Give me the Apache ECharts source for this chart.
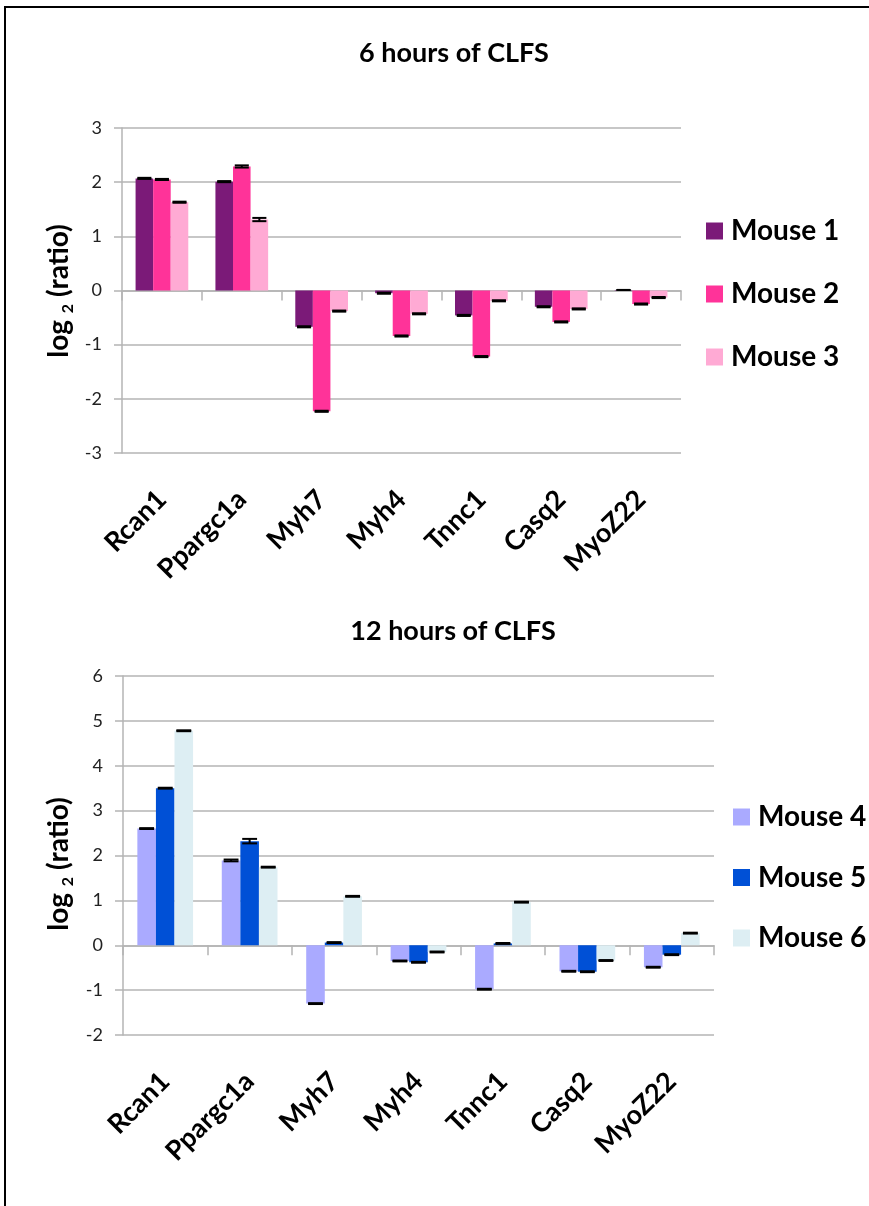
<!DOCTYPE html>
<html>
<head>
<meta charset="utf-8">
<script src="https://cdn.jsdelivr.net/npm/echarts@6/dist/echarts.min.js"></script>
<style>
  html, body { margin: 0; padding: 0; background: #fff; }
  #chart { width: 869px; height: 1206px; }
</style>
</head>
<body>
<div id="chart"></div>
<script>
// Gene targets measured after chronic low-frequency stimulation (CLFS)
const genes = ['Rcan1', 'Ppargc1a', 'Myh7', 'Myh4', 'Tnnc1', 'Casq2', 'MyoZ22'];

// 6 hours of CLFS: log2 expression ratios
const mouse1 = [2.07, 2.01, -0.67, -0.05, -0.46, -0.30, 0.01];
const mouse2 = [2.05, 2.29, -2.23, -0.84, -1.22, -0.58, -0.25];
const mouse3 = [1.63, 1.31, -0.38, -0.43, -0.19, -0.34, -0.13];
const err1 = [0.01, 0.01, 0.01, 0.01, 0.01, 0.01, 0.00];
const err2 = [0.01, 0.02, 0.01, 0.01, 0.01, 0.01, 0.01];
const err3 = [0.01, 0.03, 0.01, 0.01, 0.01, 0.01, 0.01];

// 12 hours of CLFS: log2 expression ratios
const mouse4 = [2.60, 1.89, -1.30, -0.35, -0.98, -0.58, -0.49];
const mouse5 = [3.50, 2.32, 0.06, -0.38, 0.04, -0.59, -0.21];
const mouse6 = [4.78, 1.74, 1.09, -0.15, 0.96, -0.34, 0.27];
const err4 = [0.01, 0.02, 0.01, 0.01, 0.01, 0.01, 0.01];
const err5 = [0.01, 0.05, 0.01, 0.01, 0.01, 0.01, 0.01];
const err6 = [0.01, 0.01, 0.01, 0.01, 0.01, 0.01, 0.01];

const yTicksTop = [-3, -2, -1, 0, 1, 2, 3];
const yTicksBottom = [-2, -1, 0, 1, 2, 3, 4, 5, 6];

const FONT = 'Lato, "Open Sans", sans-serif';
const GRID_COLOR = '#b4b4b4';
const CAT_GAP = 0.34;

const chart = echarts.init(document.getElementById('chart'));

function zeroAxis(gridIndex) {
  return {
    type: 'category', gridIndex, data: genes,
    axisLine: { onZero: true, lineStyle: { color: GRID_COLOR, width: 1.5 } },
    axisTick: { show: true, length: 10, lineStyle: { color: GRID_COLOR, width: 1.5 } },
    axisLabel: { show: false },
    splitLine: { show: false }
  };
}
function labelAxis(gridIndex) {
  return {
    type: 'category', gridIndex, data: genes, position: 'bottom',
    axisLine: { show: false, onZero: false },
    axisTick: { show: false },
    axisLabel: {
      rotate: 45, margin: 42, interval: 0,
      fontFamily: FONT, fontSize: 27, fontWeight: 'bold', color: '#000'
    }
  };
}
function valueAxis(gridIndex, ticks) {
  return {
    type: 'value', gridIndex,
    min: ticks[0], max: ticks[ticks.length - 1], interval: 1,
    axisLine: { show: true, lineStyle: { color: GRID_COLOR, width: 1.5 } },
    axisTick: { show: true, length: 8, lineStyle: { color: GRID_COLOR, width: 1.5 } },
    axisLabel: { fontFamily: FONT, fontSize: 18, color: '#222', margin: 20 },
    splitLine: { show: true, lineStyle: { color: GRID_COLOR, width: 1.5 } }
  };
}

// Rotated y-axis title "log2 (ratio)" with a subscript 2
function yTitle(x, y) {
  return {
    type: 'text', x, y, rotation: Math.PI / 2, silent: true,
    style: {
      text: '{a|log }{s|2}{a| (ratio)}',
      align: 'center', verticalAlign: 'middle',
      rich: {
        a: { fontFamily: FONT, fontSize: 28, fontWeight: 'bold', fill: '#000', lineHeight: 34, verticalAlign: 'middle' },
        s: { fontFamily: FONT, fontSize: 16, fontWeight: 'bold', fill: '#000', lineHeight: 34, verticalAlign: 'bottom' }
      }
    }
  };
}

function barSeries(name, data, color, xAxisIndex, yAxisIndex) {
  return {
    name, type: 'bar', data, xAxisIndex, yAxisIndex,
    barGap: '0%', barCategoryGap: (CAT_GAP * 100) + '%',
    itemStyle: { color },
    emphasis: { disabled: true }
  };
}

// Error caps drawn on top of the grouped bars (slot = -1, 0, 1 within a group)
function errSeries(name, values, errs, slot, xAxisIndex, yAxisIndex) {
  return {
    name, type: 'custom', xAxisIndex, yAxisIndex, z: 5, silent: true,
    data: values.map((v, i) => [i, v, errs[i]]),
    renderItem(params, api) {
      const cat = api.value(0), v = api.value(1), e = api.value(2);
      const band = api.size([1, 0])[0];
      const barW = band * (1 - CAT_GAP) / 3;
      const cx = api.coord([cat, 0])[0] + slot * barW;
      const half = barW * 0.4;
      const yHi = api.coord([cat, v + e])[1];
      const yLo = api.coord([cat, v - e])[1];
      const style = { stroke: '#000', lineWidth: 2 };
      return {
        type: 'group',
        children: [
          { type: 'line', shape: { x1: cx - half, y1: yHi, x2: cx + half, y2: yHi }, style },
          { type: 'line', shape: { x1: cx - half, y1: yLo, x2: cx + half, y2: yLo }, style },
          { type: 'line', shape: { x1: cx, y1: yHi, x2: cx, y2: yLo }, style }
        ]
      };
    }
  };
}

const legendText = { fontFamily: FONT, fontSize: 28, fontWeight: 'bold', color: '#000', lineHeight: 30, padding: [0, 0, 0, 3] };

chart.setOption({
  animation: false,
  backgroundColor: '#fff',
  title: [
    { text: '6 hours of CLFS', left: 449, top: 35, textAlign: 'center',
      textStyle: { fontFamily: FONT, fontSize: 27, fontWeight: 'bold', color: '#000' } },
    { text: '12 hours of CLFS', left: 448, top: 613, textAlign: 'center',
      textStyle: { fontFamily: FONT, fontSize: 27, fontWeight: 'bold', color: '#000' } }
  ],
  legend: [
    { data: ['Mouse 1', 'Mouse 2', 'Mouse 3'], orient: 'vertical', left: 706, top: 216, padding: 0,
      icon: 'rect', itemWidth: 17, itemHeight: 17, itemGap: 33, textStyle: legendText, selectedMode: false },
    { data: ['Mouse 4', 'Mouse 5', 'Mouse 6'], orient: 'vertical', left: 733, top: 802, padding: 0,
      icon: 'rect', itemWidth: 17, itemHeight: 17, itemGap: 30.5, textStyle: legendText, selectedMode: false }
  ],
  grid: [
    { left: 122, top: 128, width: 559, height: 325 },
    { left: 123, top: 676, width: 591, height: 359 }
  ],
  xAxis: [zeroAxis(0), labelAxis(0), zeroAxis(1), labelAxis(1)],
  yAxis: [valueAxis(0, yTicksTop), valueAxis(1, yTicksBottom)],
  graphic: [
    yTitle(59, 291),
    yTitle(59, 864),
    { type: 'rect', shape: { x: 5, y: 7, width: 900, height: 1300 },
      style: { fill: 'none', stroke: '#000', lineWidth: 2 }, silent: true, z: 100 }
  ],
  series: [
    barSeries('Mouse 1', mouse1, '#7b1a78', 0, 0),
    barSeries('Mouse 2', mouse2, '#ff3399', 0, 0),
    barSeries('Mouse 3', mouse3, '#ffaad4', 0, 0),
    errSeries('Mouse 1 SE', mouse1, err1, -1, 0, 0),
    errSeries('Mouse 2 SE', mouse2, err2, 0, 0, 0),
    errSeries('Mouse 3 SE', mouse3, err3, 1, 0, 0),
    barSeries('Mouse 4', mouse4, '#aaaaff', 2, 1),
    barSeries('Mouse 5', mouse5, '#0050d6', 2, 1),
    barSeries('Mouse 6', mouse6, '#ddeef3', 2, 1),
    errSeries('Mouse 4 SE', mouse4, err4, -1, 2, 1),
    errSeries('Mouse 5 SE', mouse5, err5, 0, 2, 1),
    errSeries('Mouse 6 SE', mouse6, err6, 1, 2, 1)
  ]
});
</script>
</body>
</html>
